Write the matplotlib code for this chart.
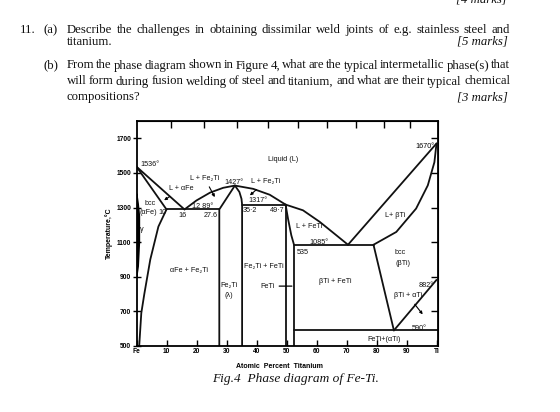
import matplotlib
matplotlib.use("Agg")
import matplotlib.pyplot as plt
from matplotlib.patches import Polygon

W, H = 560, 412

# --- phase boundaries: at% Ti vs temperature (degC) ---
fe_liq_x = [0, 16]
fe_liq_t = [1536, 1289]
fe_sol_x = [0, 10]
fe_sol_t = [1536, 1289]
eut1289_x = [10, 27.6]
eut1289_t = [1289, 1289]
fe_solvus_x = [10, 7.3, 4.6, 2.6, 1.6, 0.9]
fe_solvus_t = [1289, 1190, 1000, 800, 690, 500]
gamma_x = [0, 0.5, 0.9, 0.9, 0.5, 0]
gamma_t = [900, 960, 1100, 1250, 1320, 1380]
liq_arc_x = [16, 20, 24.5, 28.9, 32.8, 38.9, 44.4, 49.7]
liq_arc_t = [1289, 1341, 1386, 1414, 1427, 1408, 1374, 1317]
fe2ti_left_x = [27.6, 27.6, 32.8]
fe2ti_left_t = [500, 1289, 1427]
fe2ti_right_x = [32.8, 34.3, 35.0, 35.2, 35.2]
fe2ti_right_t = [1427, 1390, 1350, 1317, 500]
eut1317_x = [35.2, 49.7]
eut1317_t = [1317, 1317]
feti_left_x = [49.7, 49.7]
feti_left_t = [1317, 500]
feti_right_x = [49.7, 50.5, 51.6, 52.5, 52.5]
feti_right_t = [1317, 1236, 1140, 1085, 500]
liq_feti_x = [49.7, 55.5, 61.1, 66.6, 70.5]
liq_feti_t = [1317, 1284, 1217, 1140, 1085]
eut1085_x = [52.5, 79]
eut1085_t = [1085, 1085]
ti_liq_x = [70.5, 100]
ti_liq_t = [1085, 1670]
ti_sol_x = [79, 86.6, 93.2, 97.1, 99.3, 100]
ti_sol_t = [1085, 1159, 1294, 1428, 1562, 1670]
ti_solvus_x = [79, 85.8]
ti_solvus_t = [1085, 590]
eut590_x = [52.5, 100.5]
eut590_t = [590, 590]
transus_x = [85.8, 100]
transus_t = [590, 882]

y_ticks = [500, 700, 900, 1100, 1300, 1500, 1700]
x_ticks = [0, 10, 20, 30, 40, 50, 60, 70, 80, 90, 100]
x_tick_labels = ["Fe", "10", "20", "30", "40", "50", "60", "70", "80", "90", "Ti"]
wt_ticks = [10, 20, 30, 40, 50, 60, 70, 80, 90]

# region labels: (text, at% Ti, degC)
region_labels = [
    ("1536°", 4.4, 1548), ("Liquid (L)", 49, 1576), ("1427°", 32.5, 1447),
    ("bcc", 4.5, 1322), ("(αFe)", 3.9, 1274), ("10", 8.5, 1274),
    ("16", 15.4, 1255), ("12 89°", 21.9, 1307), ("27.6", 24.6, 1255),
    ("1317°", 40.4, 1338), ("35·2", 37.9, 1282), ("49·7", 46.9, 1282),
    ("L + FeTi", 57.6, 1193), ("1085°", 60.8, 1096), ("535", 55.3, 1040),
    ("L+ βTi", 86.3, 1255), ("bcc", 87.8, 1040), ("(βTi)", 88.7, 977),
    ("βTi + FeTi", 66.4, 871), ("882°", 96.7, 852), ("590°", 94.3, 602),
    ("FeTi+(αTi)", 82.4, 540), ("αFe + Fe₂Ti", 17.5, 938),
    ("Fe₂Ti + FeTi", 42.4, 957), ("Fe₂Ti", 30.7, 852), ("(λ)", 30.9, 794),
]
# labels with pointer arrows: (text, label x, label T, tip x, tip T)
arrow_labels = [
    ("L + αFe", 15.0, 1409, 9.2, 1342),
    ("L + Fe₂Ti", 22.7, 1470, 26.1, 1360),
    ("L + Fe₂Ti", 43.0, 1451, 37.8, 1370),
    ("βTi + αTi", 90.5, 790, 95.4, 683),
]

M_TI, M_FE = 47.87, 55.85


def at_to_wt(a):
    return 100 * a * M_TI / (a * M_TI + (100 - a) * M_FE)


def wt_to_at(w):
    return 100 * (w / M_TI) / (w / M_TI + (100 - w) / M_FE)


fig = plt.figure(figsize=(W / 100, H / 100), dpi=100)
serif = "Liberation Serif"
sans = ["Liberation Sans", "DejaVu Sans"]


def fx(px):
    return px / W


def fy(py):
    return 1 - py / H


def justified(words, x0, x1, ybase, **kw):
    texts = [fig.text(0, 0, w, va="baseline", ha="left", **kw) for w in words]
    r = fig.canvas.get_renderer()
    widths = [t.get_window_extent(r).width for t in texts]
    gap = (x1 - x0 - sum(widths)) / (len(words) - 1)
    x = x0
    for t, w in zip(texts, widths):
        t.set_position((fx(x), fy(ybase)))
        x += w + gap


qfont = dict(family=serif, fontsize=9.2, color="#111111")
fig.text(fx(507), fy(3), "[4 marks]", ha="right", va="baseline",
         style="italic", **qfont)
fig.text(fx(20), fy(33), "11.", va="baseline", **qfont)
fig.text(fx(44), fy(33), "(a)", va="baseline", **qfont)
justified("Describe the challenges in obtaining dissimilar weld joints of e.g. "
          "stainless steel and".split(), 66.7, 510, 33, **qfont)
fig.text(fx(66.7), fy(45), "titanium.", va="baseline", **qfont)
fig.text(fx(508), fy(45), "[5 marks]", ha="right", va="baseline",
         style="italic", **qfont)
fig.text(fx(44), fy(68.5), "(b)", va="baseline", **qfont)
justified("From the phase diagram shown in Figure 4, what are the typical "
          "intermetallic phase(s) that".split(), 66.7, 510, 68.5, **qfont)
justified("will form during fusion welding of steel and titanium, and what are "
          "their typical chemical".split(), 66.7, 510, 84.5, **qfont)
fig.text(fx(66.7), fy(100), "compositions?", va="baseline", **qfont)
fig.text(fx(508), fy(100), "[3 marks]", ha="right", va="baseline",
         style="italic", **qfont)

# --- phase diagram ---
ax = fig.add_axes([fx(136.5), fy(346), (438 - 136.5) / W, (346 - 121) / H])
ax.set_xlim(0, 100.5)
ax.set_ylim(500, 1800)

lines = [
    (fe_liq_x, fe_liq_t), (fe_sol_x, fe_sol_t), (eut1289_x, eut1289_t),
    (fe_solvus_x, fe_solvus_t), (liq_arc_x, liq_arc_t),
    (fe2ti_left_x, fe2ti_left_t), (fe2ti_right_x, fe2ti_right_t),
    (eut1317_x, eut1317_t), (feti_left_x, feti_left_t),
    (feti_right_x, feti_right_t), (liq_feti_x, liq_feti_t),
    (eut1085_x, eut1085_t), (ti_liq_x, ti_liq_t), (ti_sol_x, ti_sol_t),
    (ti_solvus_x, ti_solvus_t), (eut590_x, eut590_t), (transus_x, transus_t),
]
for xs, ts in lines:
    ax.plot(xs, ts, color="#111111", lw=1.3, solid_capstyle="round")
ax.add_patch(Polygon(list(zip(gamma_x, gamma_t)), closed=True,
                     facecolor="black", edgecolor="black", lw=1.4))

lab = dict(family=sans, fontsize=5.2, color="#111111", ha="center", va="center")
for txt, x, t in region_labels:
    ax.text(x, t, txt, **lab)
for txt, x, t, tx, tt in arrow_labels:
    ax.annotate(txt, xy=(tx, tt), xytext=(x, t),
                arrowprops=dict(arrowstyle="-|>", lw=0.8, color="black",
                                mutation_scale=4, shrinkA=2, shrinkB=0),
                **lab)
ax.annotate("FeTi", xy=(51.8, 846), xytext=(43.8, 846),
            arrowprops=dict(arrowstyle="-", lw=0.9, color="black",
                            shrinkA=1, shrinkB=0), **lab)
ax.text(1.3, 1175, "γ", fontsize=5.2, family=sans, ha="left", va="center")
ax.annotate("1670°", xy=(100, 1670), xytext=(99.3, 1652),
            fontsize=5.2, family=sans, ha="right", va="center")

for s in ax.spines.values():
    s.set_linewidth(1.3)
ax.set_xticks(x_ticks)
ax.set_xticklabels(x_tick_labels)
ax.set_yticks(y_ticks)
ax.set_yticklabels([str(v) for v in y_ticks])
ax.tick_params(axis="x", direction="in", length=4, width=1.0, pad=1.5,
               labelsize=4.8)
ax.tick_params(axis="y", direction="inout", length=6, width=1.0, pad=0.8,
               labelsize=4.8)
for lbl in ax.get_xticklabels() + ax.get_yticklabels():
    lbl.set_family(sans)
    lbl.set_fontweight("bold")

top = ax.secondary_xaxis("top", functions=(at_to_wt, wt_to_at))
top.set_xticks(wt_ticks)
top.tick_params(direction="in", length=5, width=1.0, labeltop=False)
right = ax.secondary_yaxis("right")
right.set_yticks(y_ticks[1:])
right.tick_params(direction="in", length=5, width=1.0, labelright=False)

fig.text(fx(279), fy(366), "Atomic  Percent  Titanium", ha="center",
         va="center", family=sans, fontsize=5.0, fontweight="bold")
fig.text(fx(109), fy(233), "Temperature,°C", ha="center", va="center",
         rotation=90, family=sans, fontsize=5.0, fontweight="bold")
fig.text(fx(296), fy(382), "Fig.4  Phase diagram of Fe-Ti.", ha="center",
         va="baseline", family=serif, style="italic", fontsize=9.6,
         color="#111111")

fig.savefig("out.png", dpi=100)
